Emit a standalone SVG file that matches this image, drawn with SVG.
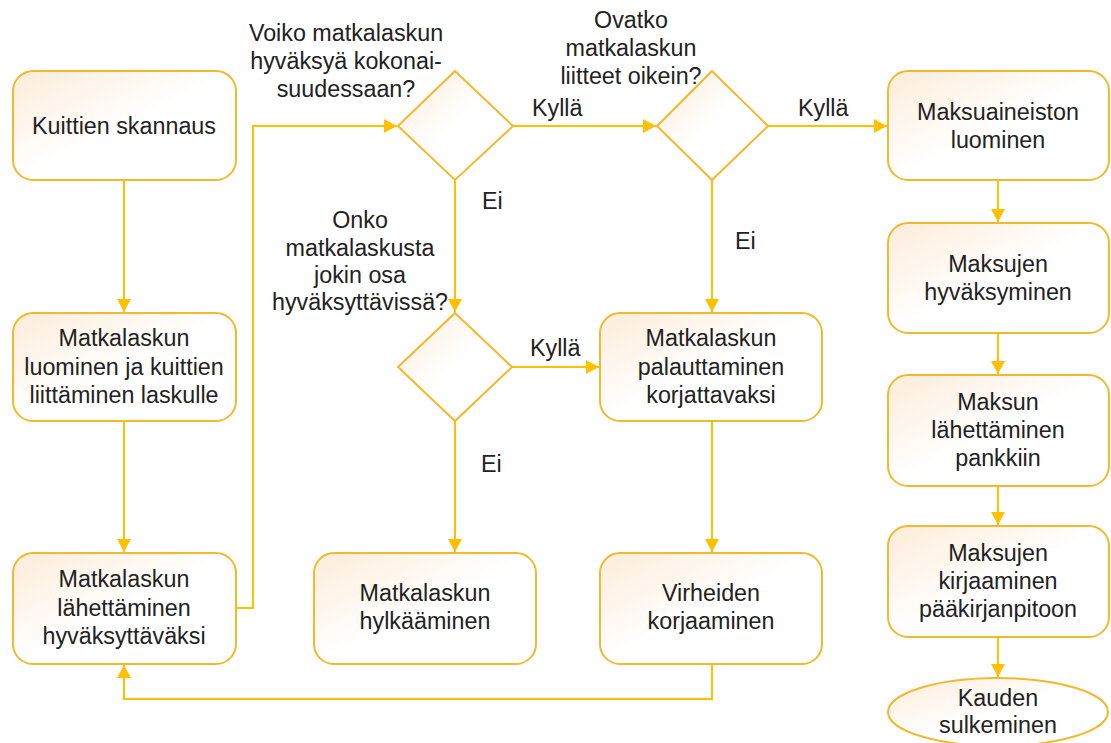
<svg xmlns="http://www.w3.org/2000/svg" width="1111" height="743" viewBox="0 0 1111 743">
<defs>
<linearGradient id="fillg" x1="0" y1="0" x2="1" y2="1">
<stop offset="0" stop-color="#fdecd9"/>
<stop offset="0.5" stop-color="#ffffff"/>
<stop offset="1" stop-color="#ffffff"/>
</linearGradient>
<marker id="arr" markerWidth="14" markerHeight="14" refX="13" refY="7" orient="auto" markerUnits="userSpaceOnUse">
<path d="M0,0 L13,7 L0,14 Z" fill="#ffc000"/>
</marker>
<style>
.n{fill:url(#fillg);stroke:#f2b92e;stroke-width:2}
.c{fill:none;stroke:#ffc000;stroke-width:2;marker-end:url(#arr)}
text{font-family:"Liberation Sans",Arial,sans-serif;font-size:23.3px;fill:#222;text-anchor:middle}
.l{text-anchor:start}
</style>
</defs>
<rect width="1111" height="743" fill="#ffffff"/>
<g id="connectors">
<path class="c" d="M124,181 L124,312"/>
<path class="c" d="M124,422 L124,552"/>
<path class="c" d="M237,608 L253,608 L253,126 L397,126"/>
<path class="c" d="M513,126 L656,126"/>
<path class="c" d="M768,126 L887,126"/>
<path class="c" d="M455,180 L455,312"/>
<path class="c" d="M712,180 L712,312"/>
<path class="c" d="M512,367 L599,367"/>
<path class="c" d="M455,421 L455,552"/>
<path class="c" d="M712,422 L712,552"/>
<path class="c" d="M712,664 L712,699 L124,699 L124,665"/>
<path class="c" d="M998,181 L998,222"/>
<path class="c" d="M998,334 L998,374"/>
<path class="c" d="M998,487 L998,525"/>
<path class="c" d="M998,638 L998,677"/>
<text class="l" x="532" y="116">Kyllä</text>
<text class="l" x="798" y="116">Kyllä</text>
<text class="l" x="482" y="209">Ei</text>
<text class="l" x="735" y="249">Ei</text>
<text class="l" x="530" y="356">Kyllä</text>
<text class="l" x="481" y="472">Ei</text>
</g>
<g id="n1"><rect class="n" x="13" y="71" width="223" height="109" rx="20"/>
<text x="124" y="134">Kuittien skannaus</text></g>
<g id="n2"><rect class="n" x="13" y="313" width="223" height="108" rx="20"/>
<text x="124" y="346">Matkalaskun</text><text x="124" y="375">luominen ja kuittien</text><text x="124" y="403">liittäminen laskulle</text></g>
<g id="n3"><rect class="n" x="13" y="553" width="223" height="111" rx="20"/>
<text x="124" y="587">Matkalaskun</text><text x="124" y="616">lähettäminen</text><text x="124" y="644">hyväksyttäväksi</text></g>
<g id="d1"><polygon class="n" points="455,71 513,126 455,180 398,126"/>
<text x="346" y="41">Voiko matkalaskun</text><text x="346" y="69">hyväksyä kokonai-</text><text x="346" y="97">suudessaan?</text></g>
<g id="d2"><polygon class="n" points="712,71 768,126 712,180 657,126"/>
<text x="631" y="28">Ovatko</text><text x="631" y="56">matkalaskun</text><text x="631" y="84">liitteet oikein?</text></g>
<g id="d3"><polygon class="n" points="455,313 512,367 455,421 398,367"/>
<text x="360" y="228">Onko</text><text x="360" y="256">matkalaskusta</text><text x="360" y="283">jokin osa</text><text x="360" y="310">hyväksyttävissä?</text></g>
<g id="n4"><rect class="n" x="600" y="313" width="222" height="108" rx="20"/>
<text x="711" y="346">Matkalaskun</text><text x="711" y="375">palauttaminen</text><text x="711" y="403">korjattavaksi</text></g>
<g id="n5"><rect class="n" x="314" y="553" width="222" height="111" rx="20"/>
<text x="425" y="601">Matkalaskun</text><text x="425" y="629">hylkääminen</text></g>
<g id="n6"><rect class="n" x="600" y="553" width="222" height="111" rx="20"/>
<text x="711" y="601">Virheiden</text><text x="711" y="629">korjaaminen</text></g>
<g id="n7"><rect class="n" x="888" y="71" width="221" height="109" rx="20"/>
<text x="998" y="120">Maksuaineiston</text><text x="998" y="148">luominen</text></g>
<g id="n8"><rect class="n" x="888" y="223" width="221" height="110" rx="20"/>
<text x="998" y="272">Maksujen</text><text x="998" y="300">hyväksyminen</text></g>
<g id="n9"><rect class="n" x="888" y="375" width="221" height="111" rx="20"/>
<text x="998" y="410">Maksun</text><text x="998" y="438">lähettäminen</text><text x="998" y="466">pankkiin</text></g>
<g id="n10"><rect class="n" x="888" y="526" width="221" height="111" rx="20"/>
<text x="998" y="561">Maksujen</text><text x="998" y="589">kirjaaminen</text><text x="998" y="617">pääkirjanpitoon</text></g>
<g id="n11"><ellipse class="n" cx="998" cy="712" rx="110" ry="34"/>
<text x="998" y="706">Kauden</text><text x="998" y="733">sulkeminen</text></g>
</svg>
